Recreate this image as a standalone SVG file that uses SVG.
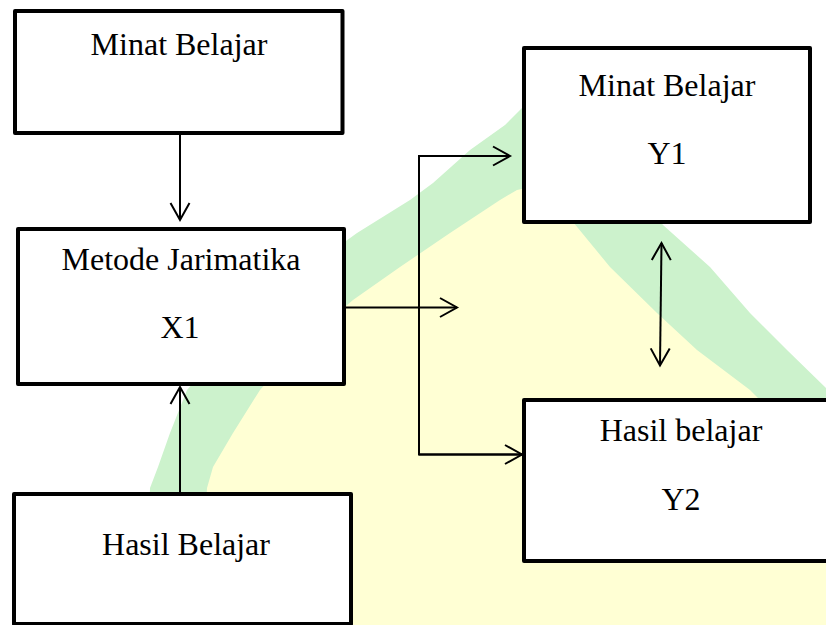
<svg xmlns="http://www.w3.org/2000/svg" width="826" height="625" viewBox="0 0 826 625">
  <style>
    .box { fill: #ffffff; stroke: #000000; stroke-width: 4; stroke-linejoin: round; }
    .lbl { font-family: "Liberation Serif", "Times New Roman", serif; font-size: 32px; fill: #000000; text-anchor: middle; }
    .conn { fill: none; stroke: #000000; stroke-width: 2; }
  </style>
  <defs>
    <marker id="arr" viewBox="0 0 22 22" refX="19" refY="11" markerWidth="22" markerHeight="22" markerUnits="userSpaceOnUse" orient="auto-start-reverse">
      <path d="M2,1.5 L19,11 L2,20.5" fill="none" stroke="#000000" stroke-width="2"/>
    </marker>
  </defs>
  <rect x="0" y="0" width="826" height="625" fill="#ffffff"/>
  <g id="watermark">
    <path fill="#ccf2cc" d="M146,625 L150,488 L158,467 L170,433 L187,390 L230,340 L270,300 L310,267 L357,233 L410,200 L433,183 L470,150 L505,125 L530,100 L600,150 L663,225 L710,267 L750,313 L787,350 L826,388 L850,420 L860,625 Z"/>
    <path fill="#ffffd4" d="M200,625 L207,488 L213,467 L233,433 L260,390 L300,345 L353,300 L400,267 L450,233 L500,200 L517,190 L540,185 L573,222 L610,267 L657,313 L697,350 L750,390 L770,410 L830,480 L830,625 Z"/>
  </g>
  <g id="connectors">
    <line class="conn" x1="180" y1="134" x2="180" y2="220" marker-end="url(#arr)"/>
    <line class="conn" x1="180" y1="492" x2="180" y2="387" marker-end="url(#arr)"/>
    <line class="conn" x1="346" y1="307.5" x2="457" y2="307.5" marker-end="url(#arr)"/>
    <polyline class="conn" points="510,156 419,156 419,454.5 522,454.5"/>
    <line class="conn" x1="419" y1="156" x2="510" y2="156" marker-end="url(#arr)"/>
    <line class="conn" x1="419" y1="454.5" x2="522" y2="454.5" marker-end="url(#arr)"/>
    <line class="conn" x1="661.5" y1="243" x2="660" y2="365.5" marker-start="url(#arr)" marker-end="url(#arr)"/>
  </g>
  <g id="node-minat-belajar">
    <rect class="box" x="15" y="11" width="327.5" height="122"/>
    <text class="lbl" x="179" y="55">Minat Belajar</text>
  </g>
  <g id="node-metode-jarimatika">
    <rect class="box" x="18" y="229" width="326" height="155"/>
    <text class="lbl" x="181" y="269.5">Metode Jarimatika</text>
    <text class="lbl" x="180" y="337.5">X1</text>
  </g>
  <g id="node-hasil-belajar">
    <rect class="box" x="14" y="494" width="337" height="130"/>
    <text class="lbl" x="186" y="555">Hasil Belajar</text>
  </g>
  <g id="node-y1">
    <rect class="box" x="524" y="48" width="286" height="174"/>
    <text class="lbl" x="667" y="95.5">Minat Belajar</text>
    <text class="lbl" x="667" y="164">Y1</text>
  </g>
  <g id="node-y2">
    <rect class="box" x="524" y="400" width="310" height="161"/>
    <text class="lbl" x="681" y="441">Hasil belajar</text>
    <text class="lbl" x="681" y="509.5">Y2</text>
  </g>
</svg>
